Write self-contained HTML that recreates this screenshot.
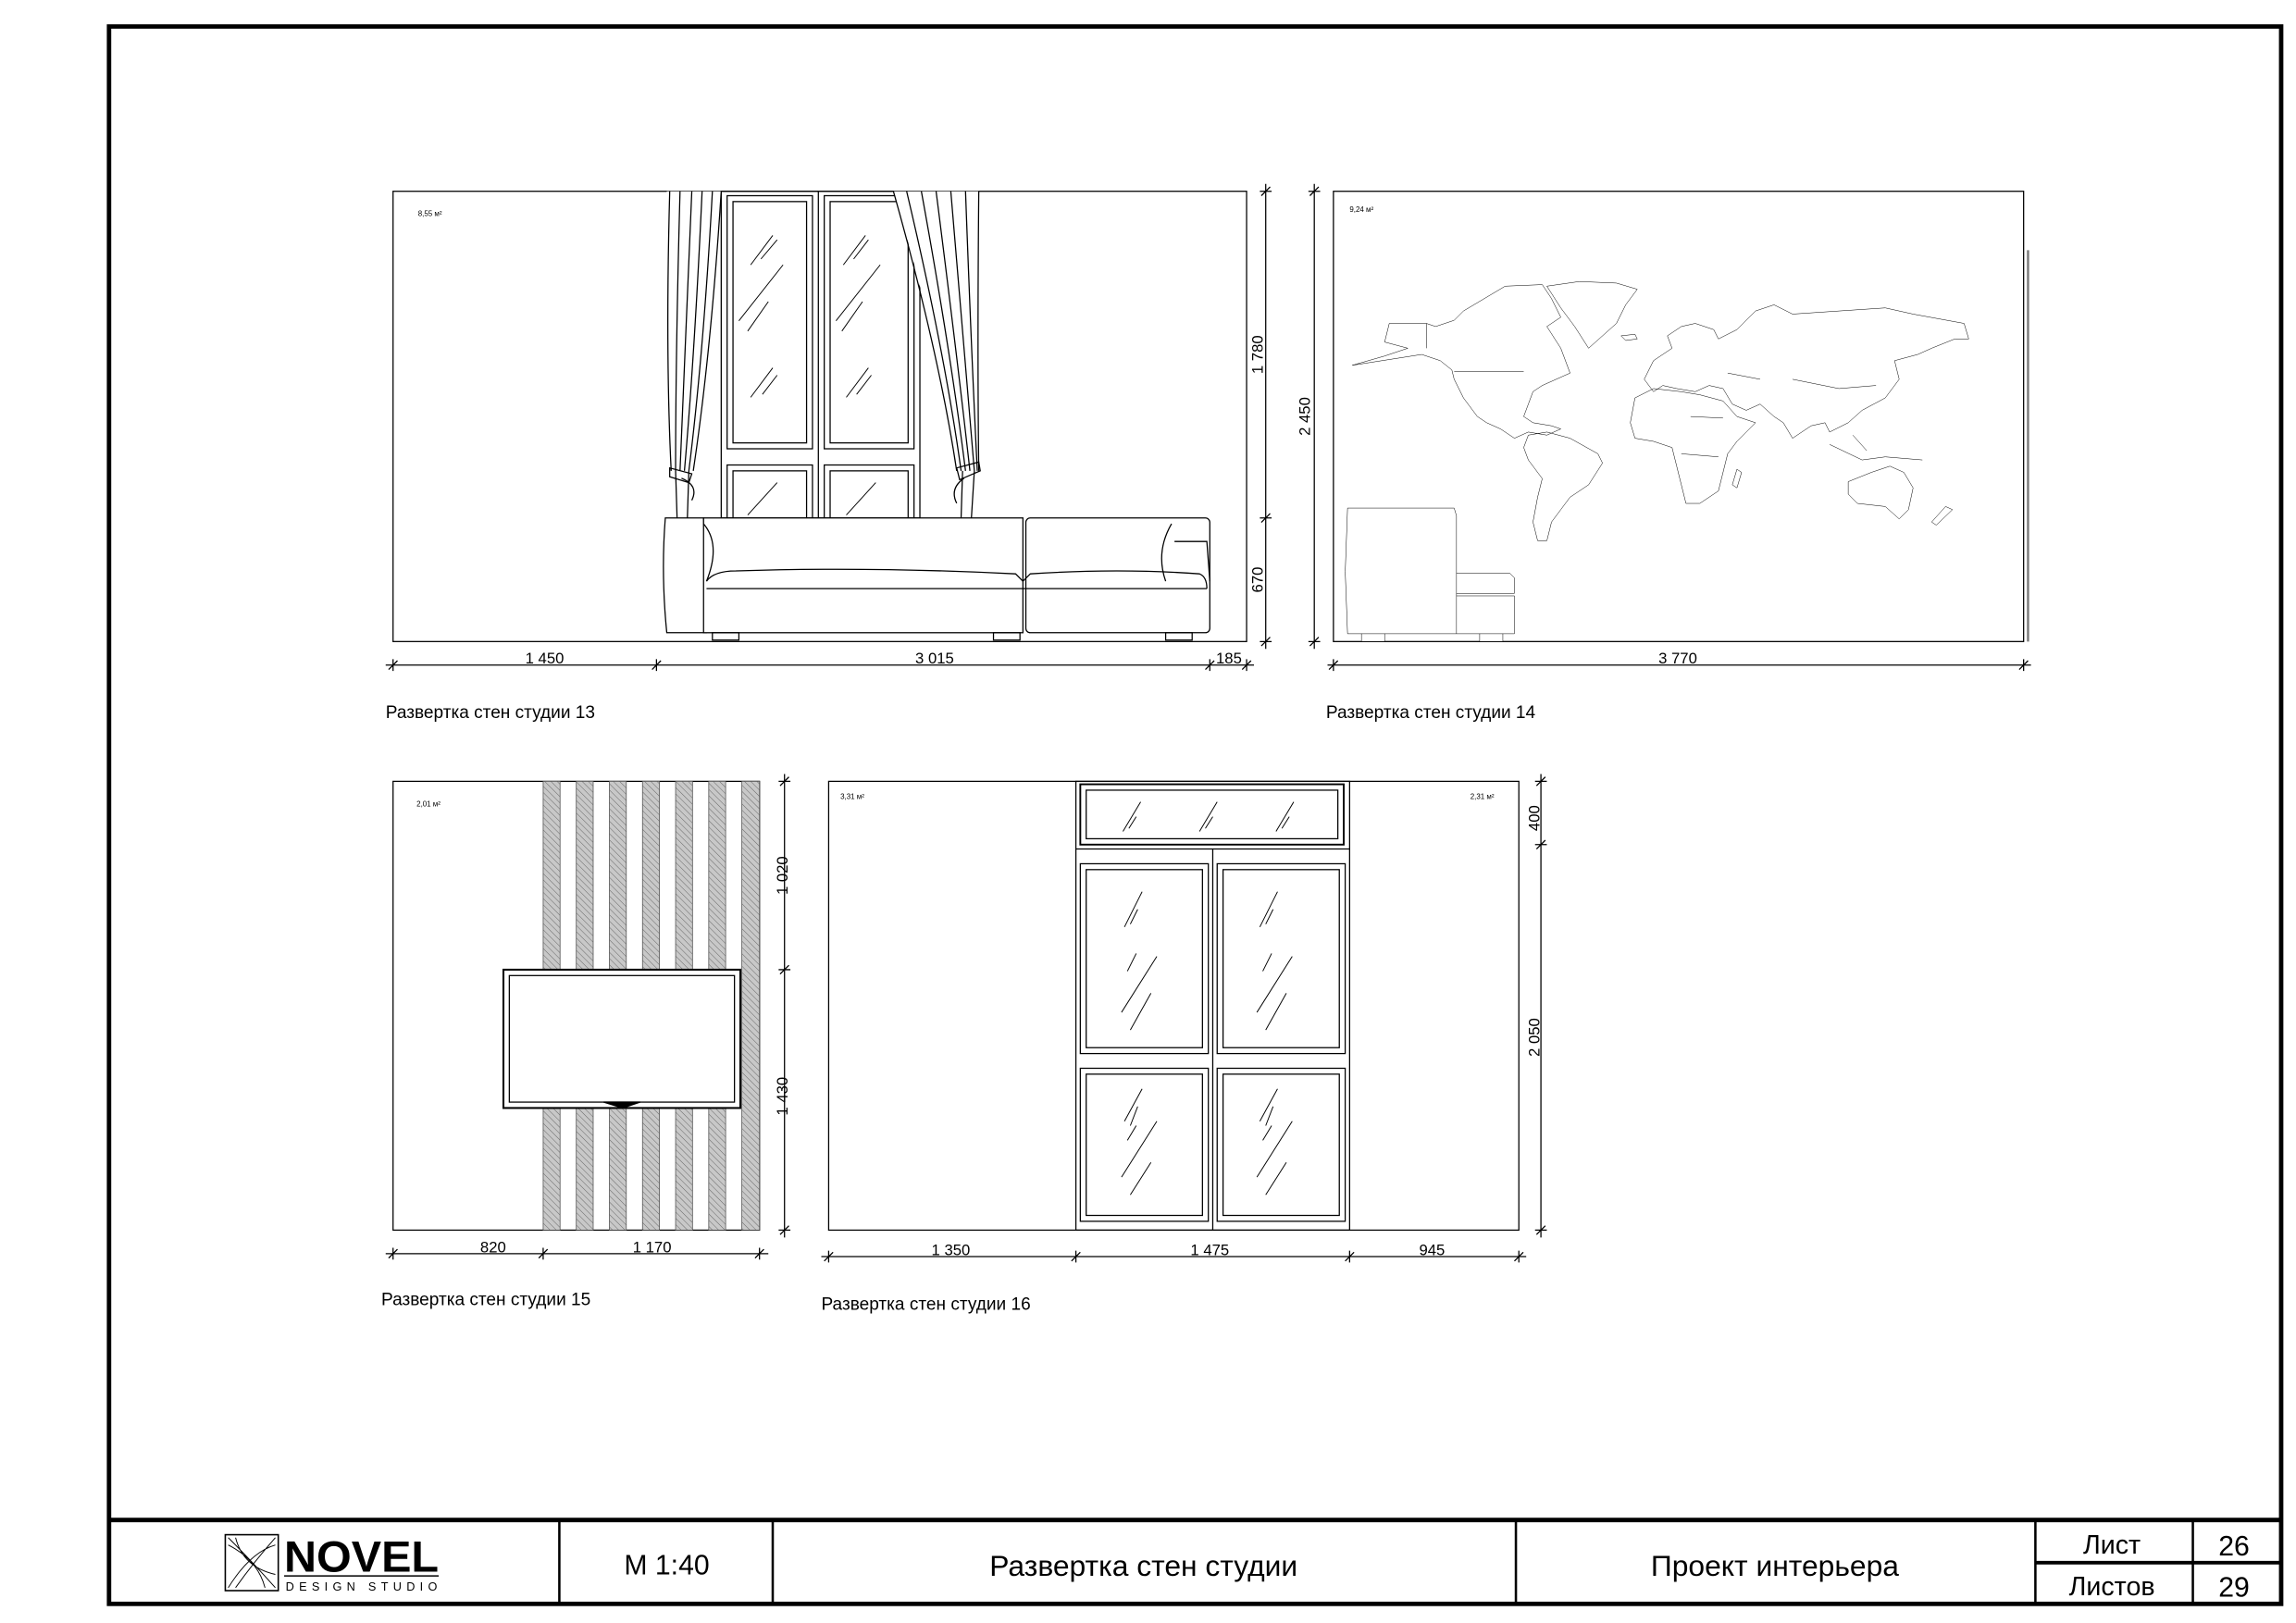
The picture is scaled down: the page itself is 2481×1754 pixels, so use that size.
<!DOCTYPE html>
<html><head><meta charset="utf-8"><style>
html,body{margin:0;padding:0;background:#fff}
svg{display:block}
text{font-family:"Liberation Sans",sans-serif;fill:#000}
.n{font-family:"Liberation Sans Narrow","Liberation Sans",sans-serif}
</style></head><body>
<svg width="2481" height="1754" viewBox="0 0 1560 1103" xmlns="http://www.w3.org/2000/svg">
<defs>
<pattern id="h" width="3" height="3" patternUnits="userSpaceOnUse" patternTransform="rotate(-45)">
<rect width="3" height="3" fill="#c8c8c8"/><line x1="0" y1="0" x2="0" y2="3" stroke="#666" stroke-width="0.6"/></pattern>
</defs>
<rect width="1560" height="1103" fill="#fff"/>
<!-- frame -->
<rect x="74" y="18" width="1476" height="1072" fill="none" stroke="#000" stroke-width="3"/>
<line x1="74" y1="1033" x2="1550" y2="1033" stroke="#000" stroke-width="3"/>
<g stroke="#000" stroke-width="1.6">
<line x1="380" y1="1033" x2="380" y2="1090"/><line x1="525" y1="1033" x2="525" y2="1090"/>
<line x1="1030" y1="1033" x2="1030" y2="1090"/><line x1="1383" y1="1033" x2="1383" y2="1090"/>
<line x1="1490" y1="1033" x2="1490" y2="1090"/></g>
<line x1="1383" y1="1062" x2="1550" y2="1062" stroke="#000" stroke-width="2.5"/>
<text x="453" y="1070" font-size="19" text-anchor="middle" class="n">М 1:40</text>
<text x="777" y="1071" font-size="20" text-anchor="middle" class="n">Развертка стен студии</text>
<text x="1206" y="1071" font-size="20" text-anchor="middle" class="n">Проект интерьера</text>
<text x="1435" y="1056" font-size="18" text-anchor="middle" class="n">Лист</text>
<text x="1435" y="1084" font-size="18" text-anchor="middle" class="n">Листов</text>
<text x="1518" y="1057" font-size="19" text-anchor="middle" class="n">26</text>
<text x="1518" y="1085" font-size="19" text-anchor="middle" class="n">29</text>
<!-- logo -->
<rect x="153" y="1043" width="36" height="38" fill="none" stroke="#000" stroke-width="1"/>
<g stroke="#000" stroke-width="0.6" fill="none"><path d="M155,1045 Q170,1060 187,1079 M155,1050 Q175,1060 180,1079 M160,1045 Q165,1065 187,1070 M187,1045 Q172,1062 160,1079 M155,1079 Q170,1055 187,1050"/></g>
<text x="193" y="1068" font-size="30" class="n" font-weight="bold" textLength="105" lengthAdjust="spacingAndGlyphs">NOVEL</text>
<line x1="193" y1="1071" x2="298" y2="1071" stroke="#000" stroke-width="1"/>
<text x="194" y="1081" font-size="8" textLength="103" lengthAdjust="spacing">DESIGN STUDIO</text>

<g fill="none" stroke="#000" stroke-width="0.8">
<!-- ===== 13 ===== -->
<rect x="267" y="130" width="580" height="306"/>
<!-- doors -->
<rect x="490" y="130" width="135" height="222"/><line x1="556" y1="130" x2="556" y2="352"/>
<rect x="494" y="133" width="58" height="172"/><rect x="498" y="137" width="50" height="164"/>
<rect x="560" y="133" width="61" height="172"/><rect x="564" y="137" width="53" height="164"/>
<rect x="494" y="316" width="58" height="40"/><rect x="498" y="320" width="50" height="36"/>
<rect x="560" y="316" width="61" height="40"/><rect x="564" y="320" width="53" height="36"/>
<g stroke-width="0.6"><path d="M510,180 L525,160 M517,176 L528,163 M502,218 L532,180 M508,225 L522,205 M510,270 L525,250 M518,268 L528,255 M573,180 L588,160 M580,176 L590,163 M568,218 L598,180 M572,225 L586,205 M575,270 L590,250 M582,268 L592,255 M508,350 L528,328 M575,350 L595,328"/></g>
<!-- curtains -->
<g fill="#fff">
<path d="M453,130 Q452,240 456,320 L458,352 L472,352 L470,320 Q485,240 490,130 Z" stroke="none"/>
<path d="M607,130 Q640,240 650,320 L652,352 L665,352 L665,320 Q664,240 665,130 Z" stroke="none"/>
</g>
<path d="M455,130 Q452,240 456,320 M462,130 Q459,240 459,320 M470,130 Q465,240 462,320 M477,130 Q472,240 465,320 M484,130 Q478,240 468,320 M490,130 Q483,240 471,320 M459,320 L460,352 M468,320 L467,352"/>
<path d="M607,130 Q638,240 650,320 M616,130 Q642,240 653,320 M626,130 Q646,240 656,320 M636,130 Q650,240 659,320 M646,130 Q655,240 662,320 M656,130 Q660,240 664,320 M665,130 Q664,240 665,320 M654,320 L653,352 M662,320 L660,352"/>
<path d="M455,318 L470,322 L468,328 L455,324 Z M463,325 Q475,330 470,340 M650,318 L665,314 L666,320 L652,326 Z M655,325 Q645,332 650,342"/>
<!-- sofa -->
<path d="M452,352 L478,352 L480,430 L453,430 Q449,390 452,352 Z" fill="#fff"/>
<rect x="478" y="352" width="217" height="78" fill="#fff"/>
<rect x="697" y="352" width="125" height="78" fill="#fff" rx="3"/>
<path d="M478,356 Q490,370 480,395 M796,356 Q785,375 792,395 M798,368 L820,368 L822,395"/>
<path d="M480,395 Q485,388 500,388 Q590,385 690,390 L695,395 L700,390 Q760,386 815,390 Q820,392 820,400 M480,400 L820,400"/>
<rect x="484" y="430" width="18" height="5"/><rect x="675" y="430" width="18" height="5"/><rect x="792" y="430" width="18" height="5"/>
<!-- dims 13 -->
<line x1="262" y1="452" x2="852" y2="452"/>
<path d="M264,455 L270,449 M443,455 L449,449 M819,455 L825,449 M844,455 L850,449 M267,448 L267,456 M446,448 L446,456 M822,448 L822,456 M847,448 L847,456"/>
<line x1="860" y1="125" x2="860" y2="441"/>
<path d="M856,130 L864,130 M856,352 L864,352 M856,436 L864,436 M857,133 L863,127 M857,355 L863,349 M857,439 L863,433"/>
</g>
<g font-size="10.5" text-anchor="middle" class="n">
<text x="370" y="451">1 450</text><text x="635" y="451">3 015</text><text x="835" y="451">185</text>
<text transform="translate(858,241) rotate(-90)">1 780</text>
<text transform="translate(858,394) rotate(-90)">670</text>
<text transform="translate(890,283) rotate(-90)">2 450</text>
<text x="1140" y="451">3 770</text>
<text x="335" y="851">820</text><text x="443" y="851">1 170</text>
<text transform="translate(535,595) rotate(-90)">1 020</text>
<text transform="translate(535,745) rotate(-90)">1 430</text>
<text x="646" y="853">1 350</text><text x="822" y="853">1 475</text><text x="973" y="853">945</text>
<text transform="translate(1046,556) rotate(-90)">400</text>
<text transform="translate(1046,705) rotate(-90)">2 050</text>
</g>
<g font-size="5" fill="#999"><text x="284" y="147" fill="#999">8,55 м²</text><text x="917" y="144" fill="#999">9,24 м²</text>
<text x="283" y="548" fill="#999">2,01 м²</text><text x="571" y="543" fill="#999">3,31 м²</text><text x="999" y="543" fill="#999">2,31 м²</text></g>
<g font-size="12"><text x="262" y="488">Развертка стен студии 13</text><text x="901" y="488">Развертка стен студии 14</text>
<text x="259" y="887">Развертка стен студии 15</text><text x="558" y="890">Развертка стен студии 16</text></g>

<!-- ===== 14 ===== -->
<g fill="none" stroke="#000" stroke-width="0.8">
<rect x="906" y="130" width="469" height="306"/>
<line x1="1378" y1="170" x2="1378" y2="436" stroke="#777" stroke-width="1.5"/>
<g transform="translate(903,127) scale(0.315,0.2109)" stroke-width="0.5">
<path vector-effect="non-scaling-stroke" d="M50,575 L120,545 L170,520 L120,500 L130,440 L210,440 L230,450 L270,430 L290,400 L380,320 L460,315 L480,360 L500,420 L470,450 L500,520 L520,600 L460,640 L440,660 L430,700 L420,740 L440,760 L480,770 L500,780 L470,800 L430,790 L400,810 L370,780 L340,760 L320,740 L290,680 L270,620 L265,590 L240,560 L200,540 Z"/>
<path vector-effect="non-scaling-stroke" d="M470,320 L540,305 L620,310 L665,330 L640,380 L620,440 L560,520 L530,450 L500,390 Z M630,480 L660,475 L665,490 L640,495 Z"/>
<path vector-effect="non-scaling-stroke" d="M430,800 L470,790 L520,810 L580,860 L590,890 L560,960 L520,1000 L500,1040 L480,1080 L470,1140 L450,1140 L440,1080 L450,1000 L460,940 L430,880 L420,840 Z"/>
<path vector-effect="non-scaling-stroke" d="M660,680 L700,650 L760,660 L800,670 L850,690 L880,740 L920,760 L880,820 L860,860 L850,920 L840,980 L800,1020 L770,1020 L760,960 L750,900 L740,840 L700,820 L660,810 L650,760 Z M880,910 L890,920 L880,970 L870,960 Z"/>
<path vector-effect="non-scaling-stroke" d="M680,620 L700,560 L740,520 L730,480 L760,450 L790,440 L830,460 L840,490 L880,460 L920,400 L960,380 L1000,410 L1100,400 L1200,390 L1260,410 L1370,440 L1380,490 L1350,490 L1300,520 L1270,540 L1220,560 L1230,620 L1200,680 L1150,720 L1120,760 L1080,790 L1070,760 L1040,770 L1000,810 L980,760 L960,740 L930,700 L900,720 L870,700 L850,650 L820,640 L790,660 L750,650 L720,640 L700,660 Z"/>
<path vector-effect="non-scaling-stroke" d="M1120,950 L1170,920 L1210,900 L1240,920 L1260,970 L1250,1040 L1230,1070 L1200,1030 L1140,1020 L1120,990 Z M1330,1030 L1345,1040 L1310,1090 L1300,1080 Z M1080,830 L1150,880 L1200,870 L1280,880 M1130,800 L1160,850 M270,595 L420,595 M210,440 L210,520 M780,740 L850,745 M760,860 L840,870 M1000,620 L1100,650 L1180,640 M860,600 L930,620"/>
<!-- sofa 14 -->
<path vector-effect="non-scaling-stroke" d="M40,1035 L270,1035 L275,1060 L275,1440 L40,1440 L35,1240 Z M275,1245 L390,1245 L400,1260 L400,1310 L275,1310 M275,1318 L400,1318 L400,1440 L275,1440 M70,1440 L70,1465 L120,1465 L120,1440 M325,1440 L325,1465 L375,1465 L375,1440" fill="#fff"/>
</g>
<line x1="902" y1="452" x2="1380" y2="452"/>
<path d="M903,455 L909,449 M1372,455 L1378,449 M906,448 L906,456 M1375,448 L1375,456"/>
<line x1="893" y1="125" x2="893" y2="441"/>
<path d="M889,130 L897,130 M889,436 L897,436 M890,133 L896,127 M890,439 L896,433"/>

<!-- ===== 15 ===== -->
<rect x="267" y="531" width="249" height="305"/>
<g fill="url(#h)" stroke="#555" stroke-width="0.5">
<rect x="369" y="531" width="11.5" height="305"/><rect x="391.5" y="531" width="11.5" height="305"/>
<rect x="414" y="531" width="11.5" height="305"/><rect x="436.5" y="531" width="11.5" height="305"/>
<rect x="459" y="531" width="11.5" height="305"/><rect x="481.5" y="531" width="11.5" height="305"/>
<rect x="504" y="531" width="12" height="305"/></g>
<rect x="342" y="659" width="161" height="94" fill="#fff" stroke-width="1.3"/>
<rect x="346" y="663" width="153" height="86"/>
<path d="M410,749 L435,749 L423,753 Z" fill="#000"/>
<line x1="262" y1="852" x2="522" y2="852"/>
<path d="M264,855 L270,849 M366,855 L372,849 M513,855 L519,849 M267,848 L267,856 M369,848 L369,856 M516,848 L516,856"/>
<line x1="533" y1="526" x2="533" y2="841"/>
<path d="M529,531 L537,531 M529,659 L537,659 M529,836 L537,836 M530,534 L536,528 M530,662 L536,656 M530,839 L536,833"/>

<!-- ===== 16 ===== -->
<rect x="563" y="531" width="469" height="305"/>
<rect x="731" y="531" width="186" height="305"/>
<line x1="731" y1="577" x2="917" y2="577"/><line x1="824" y1="577" x2="824" y2="836"/>
<rect x="734" y="533" width="179" height="41" stroke-width="1.2"/><rect x="738" y="537" width="171" height="33"/>
<rect x="734" y="587" width="87" height="129"/><rect x="738" y="591" width="79" height="121"/>
<rect x="827" y="587" width="87" height="129"/><rect x="831" y="591" width="79" height="121"/>
<rect x="734" y="726" width="87" height="104"/><rect x="738" y="730" width="79" height="96"/>
<rect x="827" y="726" width="87" height="104"/><rect x="831" y="730" width="79" height="96"/>
<g stroke-width="0.6"><path d="M763,565 L775,545 M767,563 L772,555 M815,565 L827,545 M819,563 L824,555 M867,565 L879,545 M871,563 L876,555
M764,630 L776,606 M768,628 L773,618 M856,630 L868,606 M860,628 L865,618
M762,688 L786,650 M768,700 L782,675 M766,660 L772,648 M854,688 L878,650 M860,700 L874,675 M858,660 L864,648
M764,762 L776,740 M768,765 L773,752 M856,762 L868,740 M860,765 L865,752
M762,800 L786,762 M768,812 L782,790 M766,775 L772,765 M854,800 L878,762 M860,812 L874,790 M858,775 L864,765"/></g>
<line x1="558" y1="854" x2="1037" y2="854"/>
<path d="M560,857 L566,851 M728,857 L734,851 M914,857 L920,851 M1029,857 L1035,851 M563,850 L563,858 M731,850 L731,858 M917,850 L917,858 M1032,850 L1032,858"/>
<line x1="1047" y1="526" x2="1047" y2="841"/>
<path d="M1043,531 L1051,531 M1043,574 L1051,574 M1043,836 L1051,836 M1044,534 L1050,528 M1044,577 L1050,571 M1044,839 L1050,833"/>
</g>
</svg>
</body></html>
